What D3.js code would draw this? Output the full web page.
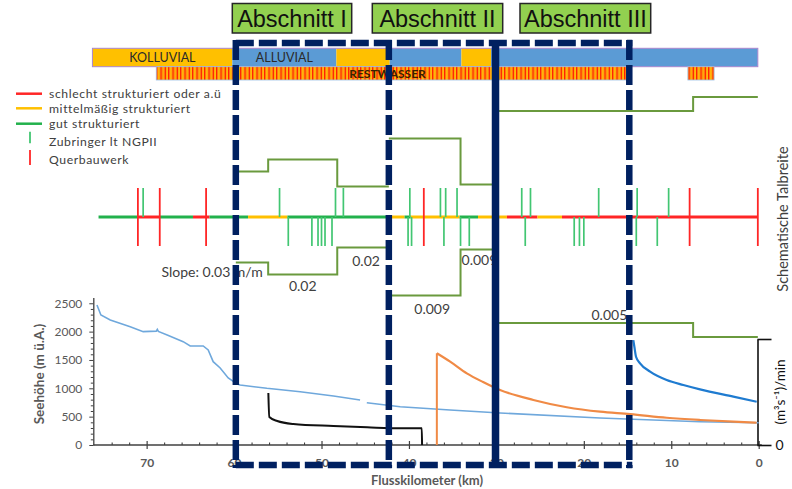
<!DOCTYPE html>
<html>
<head>
<meta charset="utf-8">
<script src="https://cdn.jsdelivr.net/npm/d3@7"></script>
<style>
  body { margin: 0; background: #fff; }
  svg { display: block; }
  text { font-family: Lato, "Noto Sans", sans-serif; }
</style>
</head>
<body>
<svg id="chart" width="792" height="489"></svg>
<script>
// ---------------- data ----------------
// river sections (km boundaries, upstream -> downstream)
const sectionNames = ["Abschnitt I", "Abschnitt II", "Abschnitt III"];
const sectionBounds = [59.8, 42.3, 30.1, 14.8];

// valley floor type along the river
const substrateKm = [76.2, 60.2, 48.3, 42.2, 34.0, 30.6, 0.1];
const substrateType = ["KOLLUVIAL", "ALLUVIAL", "KOLLUVIAL", "ALLUVIAL", "KOLLUVIAL", "ALLUVIAL"];
const substrateLabel = ["KOLLUVIAL", "ALLUVIAL", "", "", "", ""];

// residual-flow reaches (from km, to km)
const restwasserFrom = [68.9, 8.1];
const restwasserTo = [15.1, 5.1];

// morphological state of the channel
const structureKm = [75.5, 71.0, 68.5, 64.7, 62.8, 58.4, 53.9, 42.4, 40.5, 39.8, 34.2, 32.1, 28.8, 25.3, 22.5, 0.1];
const structureClass = ["gut", "schlecht", "gut", "schlecht", "gut", "mittel", "gut", "mittel",
                        "gut", "mittel", "gut", "mittel", "schlecht", "mittel", "schlecht"];

// tributaries (left / right bank) and transverse structures, km
const tributaryLeft = [70.4, 54.8, 48.4, 47.5, 39.9, 36.4, 35.8, 34.5, 27.1, 26.1, 18.3, 13.9, 10.3];
const tributaryRight = [53.8, 51.1, 50.4, 50.0, 49.6, 48.8, 40.1, 39.7, 36.0, 34.1, 33.1, 26.7, 21.1, 20.5, 20.0, 14.0, 11.6];
const barrierKm = [71.0, 68.5, 63.2, 38.3, 7.9, 0.1];

// schematic valley width per section (breakpoints in km, widths in m) and bed slope
const valleyKm = [[59.8, 56.1, 48.2, 42.3], [42.3, 34.1, 30.1], [30.1, 7.5, 0.1]];
const valleyWidth = [[91, 115, 61], [157, 65], [212, 240]];
const valleySlope = [[0.03, 0.02, 0.02], [0.009, 0.009], [0.005, null]];

// longitudinal profile (m a.s.l.); null = gap in the survey
const elevKm = [75.68, 75.23, 74.16, 71.88, 70.39, 68.9, 68.78, 68.66, 67.65, 65.82, 65.02, 63.53, 62.96,
                62.39, 61.59, 60.67, 59.65, 59.31, 56.25, 52.44, 48.63, 45.59, 45.2, 44.82, 41.0, 35.3,
                29.58, 18.15, 6.71, 0];
const elevM = [2470, 2294, 2205, 2087, 1999, 2008, 2040, 2003, 1941, 1823, 1747, 1747, 1676,
               1470, 1359, 1182, 1076, 1059, 1000, 940, 864, 794, null, 746, 676, 617,
               564, 476, 411, 393];

// discharge change rates, (m³s⁻¹)/min, relative units on the right axis
const blackKm = [56.08, 55.97, 55.06, 53.23, 48.65, 44.77, 41.0, 38.53, 38.5];
const blackQ = [49.1, 26.4, 22.6, 19.8, 17.9, 16.7, 15.8, 15.8, 0];
const orangeKm = [36.81, 35.29, 33.38, 31.52, 29.58, 25.77, 21.95, 18.14, 14.71, 10.52, 6.71, 2.9, 0.23];
const orangeQ = [86.5, 78.6, 67.6, 59.4, 51.9, 42.5, 35.6, 31.4, 29.2, 25.7, 23.6, 22.0, 21.0];
const blueKm = [14.34, 14.22, 14.03, 13.57, 12.42, 10.52, 8.62, 6.71, 2.9, 0.23];
const blueQ = [99, 92.7, 83.3, 77.1, 69.2, 61.3, 56.6, 52.5, 45.6, 40.8];

// axis ticks
const xTicks = [70, 60, 50, 40, 30, 20, 10, 0];
const yTicks = [0, 500, 1000, 1500, 2000, 2500];

// ---------------- layout ----------------
const svg = d3.select("#chart");
const NAVY = "#002060", GREY = "#595959", DARK = "#404040";
const GREEN_LINE = "#22b14c", RED = "#ff2626", YELLOW = "#ffc000", TRIB = "#42c672";
const classColor = { gut: GREEN_LINE, mittel: YELLOW, schlecht: RED };

const x = d3.scaleLinear().domain([76.1, 0]).range([93.3, 758.7]);
const yElev = d3.scaleLinear().domain([0, 2600]).range([445, 297.6]);
const yQ = d3.scaleLinear().domain([0, 100]).range([445, 339]);
const halfW = d3.scaleLinear().domain([0, 240]).range([0, 120]);
const RIVER_Y = 217, TICK = 29;

// stripe texture for residual-flow reaches
const defs = svg.append("defs");
const pat = defs.append("pattern").attr("id", "rw").attr("patternUnits", "userSpaceOnUse")
  .attr("width", 12).attr("height", 20);
pat.append("rect").attr("width", 12).attr("height", 20).attr("fill", "#ff8a12");
[[0, 1.2, "#ff2400"], [2.4, 1, "#ffd200"], [4.4, 1.3, "#ff3a00"], [6.8, 1, "#ffb300"],
 [8.8, 1.2, "#ff2a00"], [10.7, 0.8, "#ffe600"]].forEach(([px, w, c]) =>
  pat.append("rect").attr("x", px).attr("width", w).attr("height", 20).attr("fill", c));

// ---------- section title boxes ----------
const titleBoxes = [[232.3, 351.7], [372.3, 502.7], [520, 650.7]];
const titles = svg.append("g");
sectionNames.forEach((name, i) => {
  const [a, b] = titleBoxes[i];
  titles.append("rect").attr("x", a).attr("y", 3.5).attr("width", b - a).attr("height", 29.5)
    .attr("fill", "#92d050").attr("stroke", "#262626").attr("stroke-width", 1.5);
  titles.append("text").attr("x", (a + b) / 2).attr("y", 26.5).attr("text-anchor", "middle")
    .style("font-family", "'Liberation Sans', Arial, sans-serif").style("font-size", "23.5px")
    .attr("fill", "#111").text(name);
});

// ---------- substrate bar ----------
const bar = svg.append("g");
substrateType.forEach((t, i) => {
  const a = x(substrateKm[i]), b = x(substrateKm[i + 1]);
  bar.append("rect").attr("x", a).attr("y", 48.3).attr("width", b - a).attr("height", 18.4)
    .attr("fill", t === "KOLLUVIAL" ? "#ffc000" : "#5b9bd5");
  if (substrateLabel[i]) {
    bar.append("text").attr("x", (a + b) / 2).attr("y", 62).attr("text-anchor", "middle")
      .style("font-size", "12.5px").attr("fill", "#2b2b2b").text(substrateLabel[i]);
  }
});
bar.append("rect").attr("x", x(substrateKm[0])).attr("y", 48.3)
  .attr("width", x(substrateKm[substrateKm.length - 1]) - x(substrateKm[0])).attr("height", 18.4)
  .attr("fill", "none").attr("stroke", "#a987cf").attr("stroke-width", 1);

restwasserFrom.forEach((f, i) => {
  const a = x(f), b = x(restwasserTo[i]);
  bar.append("rect").attr("x", a).attr("y", 66.7).attr("width", b - a).attr("height", 13.3)
    .attr("fill", "url(#rw)").attr("stroke", "#9cc0e6").attr("stroke-width", 0.8);
});
bar.append("text").attr("x", 387.5).attr("y", 77.8).attr("text-anchor", "middle")
  .style("font-size", "12px").style("font-weight", "bold").attr("fill", "#3a2200")
  .text("RESTWASSER");

// ---------- legend ----------
const legend = svg.append("g").style("font-size", "12.2px").style("letter-spacing", "0.6px")
  .attr("fill", DARK);
const legendLines = [["schlecht strukturiert oder a.ü", RED, 93.7],
                     ["mittelmäßig strukturiert", YELLOW, 108.3],
                     ["gut strukturiert", GREEN_LINE, 123.7]];
legendLines.forEach(([label, c, ly]) => {
  legend.append("line").attr("x1", 16).attr("x2", 42).attr("y1", ly).attr("y2", ly)
    .attr("stroke", c).attr("stroke-width", 2.5);
  legend.append("text").attr("x", 49).attr("y", ly + 4.5).text(label);
});
legend.append("line").attr("x1", 30).attr("x2", 30).attr("y1", 131.7).attr("y2", 143.3)
  .attr("stroke", TRIB).attr("stroke-width", 1.8);
legend.append("text").attr("x", 49).attr("y", 146.2).text("Zubringer lt NGPII");
legend.append("line").attr("x1", 30).attr("x2", 30).attr("y1", 150).attr("y2", 165)
  .attr("stroke", RED).attr("stroke-width", 1.8);
legend.append("text").attr("x", 49).attr("y", 163.8).text("Querbauwerk");

// ---------- schematic valley width (mirrored step lines) ----------
const valley = svg.append("g").attr("fill", "none").attr("stroke", "#6a9a3e").attr("stroke-width", 2);
const slopeLabels = svg.append("g").style("font-size", "14px").attr("fill", DARK);
// placement of each slope label relative to its segment
const slopeLayout = [
  { anchor: "end", ref: "start", dx: 27, dy: 14 },
  { anchor: "middle", ref: "mid", dx: 0, dy: 16.5 },
  { anchor: "middle", ref: "mid", dx: 3, dy: 18 },
  { anchor: "middle", ref: "mid", dx: 7.5, dy: 18 },
  { anchor: "start", ref: "start", dx: 1, dy: 15.5 },
  { anchor: "end", ref: "boundary", dx: -2, dy: -3.5 }
];
let seg = 0;
valleyKm.forEach((kms, s) => {
  const pts = [];
  valleyWidth[s].forEach((w, j) => {
    pts.push([kms[j], w], [kms[j + 1], w]);
  });
  [-1, 1].forEach(sign => {
    valley.append("path").attr("d", d3.line()
      .x(d => x(d[0])).y(d => RIVER_Y + sign * halfW(d[1]))(pts));
  });
  valleySlope[s].forEach((sl, j) => {
    if (sl === null) return;
    const L = slopeLayout[seg++];
    const a = x(kms[j]), b = x(kms[j + 1]);
    const refX = L.ref === "start" ? a : L.ref === "mid" ? (a + b) / 2 : x(sectionBounds[3]);
    slopeLabels.append("text").attr("x", refX + L.dx)
      .attr("y", RIVER_Y + halfW(valleyWidth[s][j]) + L.dy)
      .attr("text-anchor", L.anchor)
      .text(seg === 1 ? `Slope: ${sl} m/m` : String(sl));
  });
});

// ---------- channel structure line, tributaries, barriers ----------
const river = svg.append("g");
structureClass.forEach((c, i) => {
  river.append("line").attr("x1", x(structureKm[i])).attr("x2", x(structureKm[i + 1]))
    .attr("y1", RIVER_Y).attr("y2", RIVER_Y).attr("stroke", classColor[c]).attr("stroke-width", 3);
});
river.selectAll(".tl").data(tributaryLeft).join("line")
  .attr("x1", d => x(d)).attr("x2", d => x(d)).attr("y1", RIVER_Y - TICK).attr("y2", RIVER_Y)
  .attr("stroke", TRIB).attr("stroke-width", 1.7);
river.selectAll(".tr").data(tributaryRight).join("line")
  .attr("x1", d => x(d)).attr("x2", d => x(d)).attr("y1", RIVER_Y).attr("y2", RIVER_Y + TICK)
  .attr("stroke", TRIB).attr("stroke-width", 1.7);
river.selectAll(".br").data(barrierKm).join("line")
  .attr("x1", d => x(d)).attr("x2", d => x(d)).attr("y1", RIVER_Y - TICK).attr("y2", RIVER_Y + TICK)
  .attr("stroke", RED).attr("stroke-width", 1.8);

// ---------- axes ----------
const axes = svg.append("g").style("font-size", "11.5px");
// x axis
const gx = axes.append("g").attr("transform", "translate(0,445)");
gx.call(d3.axisBottom(x).tickValues(xTicks).tickSize(4).tickSizeOuter(0).tickFormat(d3.format("d")));
gx.select(".domain").attr("stroke", "#404040").attr("stroke-width", 1.3)
  .attr("d", `M${x(76.1)},0H${x(-0.35)}`);
gx.selectAll(".tick line").attr("y1", -4).attr("y2", 4).attr("stroke", "#404040").attr("stroke-width", 1.2);
gx.selectAll(".tick text").attr("y", 13).attr("dy", "0.71em").attr("fill", GREY)
  .style("font-weight", "bold").style("font-family", "Lato, sans-serif").style("font-size", "12px");
const gxm = axes.append("g").attr("transform", "translate(0,445)");
gxm.call(d3.axisBottom(x).tickValues(d3.range(2, 76, 2).filter(v => v % 10 !== 0))
  .tickSize(-2.5).tickSizeOuter(0).tickFormat(""));
gxm.select(".domain").remove();
gxm.selectAll(".tick line").attr("stroke", "#404040").attr("stroke-width", 1.1);

// y axis (elevation)
const gy = axes.append("g").attr("transform", `translate(${x(76.1)},0)`);
gy.call(d3.axisLeft(yElev).tickValues(yTicks).tickSize(4).tickSizeOuter(0).tickFormat(d3.format("d")));
gy.select(".domain").attr("stroke", "#404040").attr("stroke-width", 1.3);
gy.selectAll(".tick line").attr("stroke", "#404040");
gy.selectAll(".tick text").attr("x", -11).attr("fill", GREY)
  .style("font-family", "Lato, sans-serif").style("font-size", "12px");
const gym = axes.append("g").attr("transform", `translate(${x(76.1)},0)`);
gym.call(d3.axisLeft(yElev).tickValues(d3.range(100, 2600, 100).filter(v => v % 500 !== 0))
  .tickSize(2.5).tickSizeOuter(0).tickFormat(""));
gym.select(".domain").remove();
gym.selectAll(".tick line").attr("stroke", "#404040");

axes.append("text").attr("transform", "translate(44,374) rotate(-90)").attr("text-anchor", "middle")
  .style("font-weight", "bold").style("font-size", "13.5px").attr("fill", GREY).text("Seehöhe (m ü.A.)");
axes.append("text").attr("x", 427).attr("y", 485).attr("text-anchor", "middle")
  .style("font-weight", "bold").style("font-size", "13px").attr("fill", GREY).text("Flusskilometer (km)");

// right axis: discharge change rate
const gr = axes.append("g").attr("transform", "translate(757.5,0)");
gr.call(d3.axisRight(yQ).tickValues([0, 100]).tickSize(14).tickSizeOuter(0)
  .tickFormat(d => d === 0 ? "0" : ""));
gr.select(".domain").attr("stroke", "#111").attr("stroke-width", 1.6);
gr.selectAll(".tick line").attr("stroke", "#111").attr("stroke-width", 1.6);
gr.selectAll(".tick text").attr("x", 18).attr("fill", "#111")
  .style("font-family", "Lato, sans-serif").style("font-size", "14px");
axes.append("text").attr("transform", "translate(785,392) rotate(-90)").attr("text-anchor", "middle")
  .style("font-size", "13.5px").attr("fill", "#111").text("(m³s⁻¹)/min");
axes.append("text").attr("transform", `translate(787.5,${RIVER_Y + 2}) rotate(-90)`).attr("text-anchor", "middle")
  .style("font-size", "14.5px").attr("fill", DARK).text("Schematische Talbreite");

// ---------- profile lines ----------
const lines = svg.append("g").attr("fill", "none");
const elevPts = elevKm.map((k, i) => [k, elevM[i]]);
lines.append("path").attr("stroke", "#6fa8dc").attr("stroke-width", 1.6)
  .attr("d", d3.line().defined(d => d[1] !== null).x(d => x(d[0])).y(d => yElev(d[1]))(elevPts));

const qLine = d3.line().curve(d3.curveMonotoneX).x(d => x(d[0])).y(d => yQ(d[1]));
const zip = (a, b) => a.map((k, i) => [k, b[i]]);
lines.append("path").attr("stroke", "#111").attr("stroke-width", 2).attr("d", qLine(zip(blackKm, blackQ)));
lines.append("line").attr("x1", x(orangeKm[0])).attr("x2", x(orangeKm[0]))
  .attr("y1", yQ(0)).attr("y2", yQ(orangeQ[0])).attr("stroke", "#f08a45").attr("stroke-width", 2);
lines.append("path").attr("stroke", "#f08a45").attr("stroke-width", 2.2).attr("d", qLine(zip(orangeKm, orangeQ)));
lines.append("path").attr("stroke", "#1f7bd0").attr("stroke-width", 2.2).attr("d", qLine(zip(blueKm, blueQ)));

// ---------- section frames ----------
const frame = svg.append("g").attr("stroke", NAVY).attr("stroke-width", 6.5).attr("fill", "none");
const bx = sectionBounds.map(x);
const TOP = 43, BOTTOM = 465;
frame.append("line").attr("x1", bx[0]).attr("x2", bx[3] + 3).attr("y1", TOP).attr("y2", TOP)
  .attr("stroke-dasharray", "18,5");
frame.append("line").attr("x1", bx[0]).attr("x2", bx[3] + 3).attr("y1", BOTTOM).attr("y2", BOTTOM)
  .attr("stroke-dasharray", "18,5");
[bx[0], bx[1], bx[3]].forEach(px => {
  frame.append("line").attr("x1", px).attr("x2", px).attr("y1", TOP - 3).attr("y2", BOTTOM + 3)
    .attr("stroke-dasharray", "20,5");
});
frame.append("line").attr("x1", bx[2]).attr("x2", bx[2]).attr("y1", TOP - 3).attr("y2", BOTTOM + 3)
  .attr("stroke-width", 7.5);
</script>
</body>
</html>
